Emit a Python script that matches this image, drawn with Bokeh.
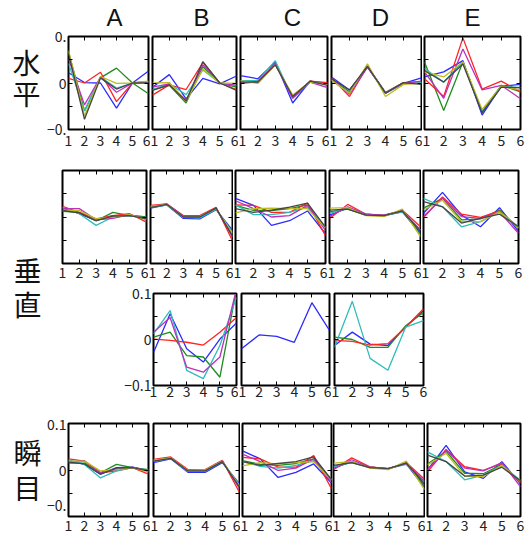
from bokeh.plotting import figure
from bokeh.layouts import row, column
from bokeh.models import Range1d, FixedTicker, LinearAxis
from bokeh.core.properties import value
from bokeh.embed import file_html
from bokeh.resources import INLINE

# ---------------------------------------------------------------- data
trials = [1, 2, 3, 4, 5, 6]
column_names = ["A", "B", "C", "D", "E"]
row_chars = ["水", "平", "垂", "直", "瞬", "目"]

# series order in every panel: blue, green, red, cyan, magenta, yellow, black
series_colors = ["#2b2bff", "#1e8c1e", "#ff2424", "#30bcbc", "#bc30bc", "#bcbc1e", "#454545"]

# 水平
horiz_A = [
    [0.022, 0.001, 0.000, -0.054, 0.000, 0.026],
    [0.067, -0.060, 0.011, 0.032, 0.000, -0.023],
    [0.010, 0.000, 0.023, -0.040, 0.000, 0.003],
    [0.042, -0.060, 0.013, -0.011, 0.000, 0.002],
    [0.052, -0.047, 0.013, -0.020, 0.000, 0.003],
    [0.070, -0.071, 0.014, -0.001, 0.000, 0.004],
    [0.063, -0.078, 0.011, -0.013, 0.000, 0.000],
]
horiz_B = [
    [-0.009, 0.018, -0.034, 0.010, -0.002, 0.015],
    [-0.014, -0.005, -0.043, 0.035, 0.000, -0.009],
    [-0.026, -0.004, -0.014, 0.044, 0.000, -0.014],
    [-0.014, -0.002, -0.025, 0.028, 0.000, -0.005],
    [-0.009, -0.002, -0.037, 0.039, 0.000, -0.005],
    [0.000, 0.001, -0.040, 0.030, 0.000, -0.001],
    [-0.016, -0.004, -0.039, 0.046, 0.000, -0.016],
]
horiz_C = [
    [0.016, 0.009, 0.045, -0.043, 0.004, -0.001],
    [0.004, 0.002, 0.042, -0.031, 0.004, -0.003],
    [-0.001, 0.002, 0.041, -0.029, 0.004, 0.001],
    [0.005, 0.005, 0.048, -0.033, 0.002, -0.003],
    [0.002, 0.003, 0.041, -0.033, 0.002, -0.010],
    [0.005, -0.001, 0.039, -0.026, 0.002, -0.003],
    [0.002, 0.002, 0.039, -0.029, 0.004, -0.005],
]
horiz_D = [
    [0.013, -0.015, 0.034, -0.022, -0.001, 0.011],
    [0.008, -0.019, 0.035, -0.020, 0.001, -0.001],
    [0.011, -0.029, 0.036, -0.022, 0.001, 0.003],
    [0.006, -0.022, 0.037, -0.022, -0.001, 0.001],
    [0.009, -0.024, 0.034, -0.021, -0.001, 0.004],
    [0.006, -0.022, 0.041, -0.029, -0.003, -0.001],
    [0.009, -0.015, 0.036, -0.022, 0.001, -0.003],
]
horiz_E = [
    [0.013, 0.024, 0.048, -0.069, -0.007, -0.003],
    [0.045, -0.059, 0.045, -0.061, -0.005, -0.019],
    [0.009, -0.029, 0.097, -0.013, 0.004, -0.019],
    [0.031, 0.002, 0.045, -0.062, -0.007, -0.010],
    [0.024, -0.033, 0.073, -0.015, -0.005, -0.034],
    [0.024, 0.013, 0.045, -0.057, -0.007, -0.015],
    [0.027, 0.002, 0.041, -0.064, -0.009, -0.010],
]

# 垂直
vert_A = [
    [0.019, 0.007, -0.008, 0.003, 0.003, 0.000],
    [0.012, 0.010, -0.008, 0.010, 0.003, 0.000],
    [0.023, 0.010, -0.004, 0.003, 0.007, -0.011],
    [0.021, 0.007, -0.018, 0.000, 0.003, -0.003],
    [0.018, 0.018, -0.006, -0.003, 0.005, -0.004],
    [0.014, 0.014, -0.004, 0.000, 0.005, -0.006],
    [0.014, 0.009, -0.008, 0.002, 0.003, -0.004],
]
vert_B = [
    [0.019, 0.026, -0.003, -0.004, 0.016, -0.029],
    [0.021, 0.027, 0.000, 0.000, 0.018, -0.040],
    [0.025, 0.028, 0.003, 0.003, 0.021, -0.051],
    [0.020, 0.026, -0.001, -0.002, 0.017, -0.033],
    [0.022, 0.028, 0.002, 0.002, 0.019, -0.043],
    [0.023, 0.027, 0.000, 0.001, 0.018, -0.036],
    [0.020, 0.027, 0.000, 0.000, 0.019, -0.041],
]
vert_C = [
    [0.040, 0.025, -0.018, -0.008, 0.013, -0.036],
    [0.025, 0.014, 0.014, 0.018, 0.026, -0.024],
    [0.026, 0.025, 0.010, 0.010, 0.030, -0.040],
    [0.026, 0.005, 0.005, 0.010, 0.021, -0.022],
    [0.035, 0.018, 0.000, 0.003, 0.025, -0.029],
    [0.009, 0.018, 0.019, 0.018, 0.018, -0.024],
    [0.018, 0.010, 0.015, 0.021, 0.030, -0.022],
]
vert_D = [
    [0.004, 0.019, 0.006, 0.003, 0.011, -0.035],
    [0.011, 0.017, 0.004, 0.004, 0.013, -0.038],
    [-0.003, 0.027, 0.006, 0.003, 0.015, -0.021],
    [0.008, 0.019, 0.006, 0.003, 0.011, -0.028],
    [0.001, 0.022, 0.006, 0.004, 0.013, -0.028],
    [0.019, 0.020, 0.003, 0.001, 0.017, -0.042],
    [0.015, 0.017, 0.004, 0.003, 0.013, -0.031],
]
vert_E = [
    [0.008, 0.053, 0.004, -0.021, 0.020, -0.031],
    [0.019, 0.040, -0.006, -0.004, 0.015, -0.024],
    [-0.001, 0.043, 0.006, -0.001, 0.013, -0.024],
    [0.040, 0.022, -0.021, -0.010, 0.011, -0.021],
    [0.001, 0.041, 0.001, -0.003, 0.011, -0.035],
    [0.015, 0.036, -0.010, -0.010, 0.011, -0.023],
    [0.033, 0.022, -0.013, -0.003, 0.006, -0.021],
]

# 垂直 (second set)
vert2_B = [
    [-0.028, 0.056, -0.020, -0.049, 0.001, 0.036],
    [0.005, 0.016, -0.035, -0.038, -0.082, 0.110],
    [0.001, -0.002, -0.006, -0.012, 0.016, 0.048],
    [0.012, 0.063, -0.067, -0.085, -0.013, 0.092],
    [0.016, 0.048, -0.060, -0.071, -0.038, 0.110],
]
vert2_C = [
    [-0.020, 0.010, 0.007, -0.006, 0.080, 0.020],
]
vert2_D = [
    [-0.013, 0.016, -0.010, -0.013, 0.027, 0.063],
    [0.005, 0.000, -0.017, -0.017, 0.030, 0.059],
    [-0.002, -0.004, -0.012, -0.009, 0.027, 0.067],
    [-0.017, 0.083, -0.041, -0.067, 0.027, 0.041],
]

# 瞬目
blink_A = [
    [0.020, 0.012, -0.009, 0.005, 0.006, -0.002],
    [0.015, 0.015, -0.006, 0.012, 0.005, 0.001],
    [0.024, 0.019, -0.006, -0.002, 0.005, -0.009],
    [0.022, 0.012, -0.017, -0.002, 0.005, -0.001],
    [0.017, 0.020, -0.006, 0.001, 0.006, -0.002],
    [0.019, 0.019, -0.002, 0.001, 0.005, -0.004],
    [0.017, 0.013, -0.009, 0.004, 0.005, -0.002],
]
blink_B = [
    [0.016, 0.024, -0.005, -0.005, 0.016, -0.030],
    [0.019, 0.026, -0.002, -0.002, 0.019, -0.036],
    [0.023, 0.028, 0.001, 0.001, 0.021, -0.048],
    [0.018, 0.025, -0.003, -0.003, 0.018, -0.033],
    [0.020, 0.026, -0.001, -0.001, 0.020, -0.040],
    [0.021, 0.026, -0.001, 0.000, 0.019, -0.035],
    [0.019, 0.025, -0.002, -0.002, 0.018, -0.037],
]
blink_C = [
    [0.041, 0.024, -0.016, -0.005, 0.013, -0.028],
    [0.020, 0.012, 0.010, 0.014, 0.024, -0.022],
    [0.027, 0.024, 0.006, 0.006, 0.031, -0.040],
    [0.018, 0.008, 0.004, 0.010, 0.020, -0.020],
    [0.034, 0.018, -0.001, 0.004, 0.024, -0.027],
    [0.009, 0.016, 0.013, 0.016, 0.018, -0.022],
    [0.018, 0.010, 0.014, 0.018, 0.028, -0.021],
]
blink_D = [
    [0.004, 0.018, 0.006, 0.003, 0.013, -0.038],
    [0.008, 0.016, 0.005, 0.003, 0.015, -0.034],
    [0.001, 0.026, 0.007, 0.002, 0.016, -0.020],
    [0.006, 0.017, 0.006, 0.003, 0.012, -0.026],
    [0.002, 0.022, 0.006, 0.003, 0.014, -0.024],
    [0.015, 0.018, 0.004, 0.001, 0.019, -0.042],
    [0.010, 0.016, 0.005, 0.003, 0.015, -0.030],
]
blink_E = [
    [0.000, 0.053, -0.004, -0.018, 0.018, -0.030],
    [0.013, 0.040, -0.007, -0.008, 0.012, -0.026],
    [-0.004, 0.044, 0.007, -0.001, 0.014, -0.028],
    [0.039, 0.018, -0.021, -0.011, 0.010, -0.022],
    [0.001, 0.042, 0.004, -0.002, 0.016, -0.036],
    [0.011, 0.036, -0.013, -0.014, 0.010, -0.024],
    [0.032, 0.018, -0.013, -0.011, 0.006, -0.023],
]

# ---------------------------------------------------------------- layout
W = 527
H = 540
LABEL_W = 44
HEADER_H = 30
FONT = "Noto Sans CJK JP"
TICK_SIZE = "14px"

# (top, bottom) of each band of panels, in page pixels
bands = [(HEADER_H, 155), (155, 283), (283, 412), (412, 540)]

# each panel: data, (left, right, top, bottom) frame box, y tick labels or None
band_panels = [
    [(horiz_A, (66, 148, 32, 129), {0.1: "0.", 0: "0", -0.1: "\u22120."}),
     (horiz_B, (152, 236, 32, 129), None),
     (horiz_C, (240, 327, 35, 130), None),
     (horiz_D, (331, 421, 35, 130), None),
     (horiz_E, (424, 520, 36, 130), None)],
    [(vert_A, (62, 146, 170, 263), None),
     (vert_B, (150, 232, 170, 263), None),
     (vert_C, (235, 325, 170, 263), None),
     (vert_D, (329, 420, 170, 264), None),
     (vert_E, (423, 518, 170, 264), None)],
    [(vert2_B, (153, 236, 293, 385), {0.1: "0.1", 0: "0", -0.1: "\u22120.1"}),
     (vert2_C, (241, 329, 293, 385), None),
     (vert2_D, (334, 423, 293, 385), None)],
    # the bottom label of this panel sits half a line above its tick
    [(blink_A, (67, 148, 421, 517), {0.1: "0.1", 0: "0", -0.1: "\u22120.\n"}),
     (blink_B, (153, 239, 422, 516), None),
     (blink_C, (242, 331, 422, 517), None),
     (blink_D, (333, 424, 423, 518), None),
     (blink_E, (427, 520, 423, 517), None)],
]
x_label_standoff = [5, 3, 0, 3]

header_x = [114, 201, 292, 380, 472]
header_y = 17
row_char_x = [26, 26, 27, 27, 27, 27]
row_char_y = [61, 92, 269, 303, 451, 486]


def make_axis(ticks, minor=(), labels=None, show=False, standoff=0):
    ax = LinearAxis(ticker=FixedTicker(ticks=list(ticks), minor_ticks=list(minor)))
    ax.axis_line_color = None
    ax.major_tick_in = 4
    ax.major_tick_out = 0
    ax.minor_tick_in = 4
    ax.minor_tick_out = 0
    ax.major_tick_line_color = "black"
    ax.minor_tick_line_color = "black"
    if show:
        if labels:
            ax.major_label_overrides = labels
        ax.major_label_text_font = FONT
        ax.major_label_text_font_size = TICK_SIZE
        ax.major_label_text_color = "#222222"
        ax.major_label_standoff = standoff
    else:
        # tick marks only, no labels on this side
        ax.major_label_text_font_size = "0px"
        ax.major_label_text_color = None
        ax.major_label_standoff = 0
    return ax


def make_panel(series, box, ylabels, fig_left, fig_right, band, standoff):
    left, right, top, bottom = box
    band_top, band_bottom = band
    p = figure(width=fig_right - fig_left, height=band_bottom - band_top,
               x_range=Range1d(1, 6), y_range=Range1d(-0.1, 0.1),
               x_axis_location=None, y_axis_location=None, title=None,
               output_backend="svg", toolbar_location=None,
               min_border_left=left - fig_left, min_border_right=fig_right - right,
               min_border_top=top - band_top, min_border_bottom=band_bottom - bottom)
    p.grid.visible = False
    p.outline_line_color = "black"
    p.outline_line_width = 2
    p.background_fill_color = "white"
    p.border_fill_color = "white"

    p.add_layout(make_axis(trials, show=True, standoff=standoff), "below")
    p.add_layout(make_axis(trials), "above")
    p.add_layout(make_axis([-0.1, 0, 0.1], [-0.05, 0.05], labels=ylabels,
                           show=ylabels is not None, standoff=2), "left")
    p.add_layout(make_axis([-0.1, 0, 0.1], [-0.05, 0.05]), "right")

    for values, color in zip(series, series_colors):
        p.line(trials, values, line_color=color, line_width=1.3)
    return p


def make_text_fig(x0, x1, y0, y1):
    p = figure(width=x1 - x0, height=y1 - y0,
               x_range=Range1d(x0, x1), y_range=Range1d(y1, y0),
               x_axis_location=None, y_axis_location=None, title=None,
               output_backend="svg", toolbar_location=None, min_border=0)
    p.grid.visible = False
    p.outline_line_color = None
    return p


# row names, stacked one character above the other
side = make_text_fig(0, LABEL_W, 0, H)
for cx, cy, ch in zip(row_char_x, row_char_y, row_chars):
    side.text(x=[cx], y=[cy], text=[ch], text_font=value(FONT), text_font_size="28px",
              text_line_height=1.0,
              text_align="center", text_baseline="middle", text_color="#111111")

# column headers
header = make_text_fig(LABEL_W, W, 0, HEADER_H)
header.text(x=header_x, y=[header_y] * len(header_x), text=column_names,
            text_font=value("Liberation Sans"), text_font_size="24px",
            text_line_height=1.0,
            text_align="center", text_baseline="middle", text_color="#111111")

rows = [header]
for i, (band, panels) in enumerate(zip(bands, band_panels)):
    children = []
    edges = [LABEL_W]
    for j in range(len(panels) - 1):
        edges.append((panels[j][1][1] + panels[j + 1][1][0]) // 2)
    edges.append(W)
    for j, (series, box, ylabels) in enumerate(panels):
        children.append(make_panel(series, box, ylabels, edges[j], edges[j + 1],
                                   band, x_label_standoff[i]))
    rows.append(row(children, spacing=0))

layout = row([side, column(rows, spacing=0)], spacing=0)

open("out.html", "w").write(file_html(layout, INLINE))
